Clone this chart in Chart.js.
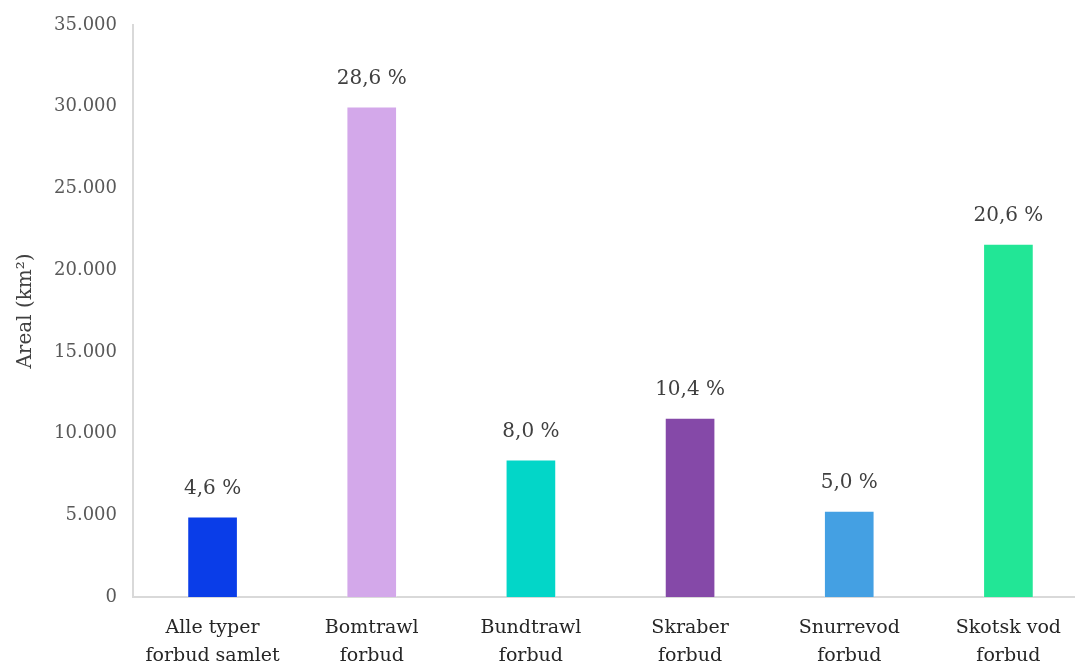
<!DOCTYPE html>
<html lang="da">
<head>
<meta charset="utf-8">
<title>Areal</title>
<script src="https://cdn.jsdelivr.net/npm/chart.js@4.4.1/dist/chart.umd.min.js"></script>
<style>
    html, body { margin: 0; padding: 0; background: #fff; overflow: hidden; }
    #wrap { width: 1088px; height: 687px; position: relative; }
</style>
</head>
<body>
<div id="wrap"><canvas id="area-chart"></canvas></div>
<script>
const categories = [
    ['Alle typer', 'forbud samlet'],
    ['Bomtrawl', 'forbud'],
    ['Bundtrawl', 'forbud'],
    ['Skraber', 'forbud'],
    ['Snurrevod', 'forbud'],
    ['Skotsk vod', 'forbud']
];
const areaValues = [4900, 30000, 8400, 10950, 5250, 21600];
const shareLabels = ['4,6 %', '28,6 %', '8,0 %', '10,4 %', '5,0 %', '20,6 %'];
const barColors = ['#0a3de8', '#d3a8ea', '#03d6c8', '#8549a8', '#44a0e3', '#22e696'];

const serif = 'Georgia, "DejaVu Serif", serif';
Chart.defaults.font.family = serif;

// draws the percentage above each bar
const shareLabelPlugin = {
    id: 'shareLabels',
    afterDatasetsDraw(chart) {
        const ctx = chart.ctx;
        const meta = chart.getDatasetMeta(0);
        ctx.save();
        ctx.font = `20px ${serif}`;
        ctx.fillStyle = '#404040';
        ctx.textAlign = 'center';
        ctx.textBaseline = 'middle';
        meta.data.forEach((bar, i) => {
            ctx.fillText(shareLabels[i], bar.x, bar.y - 28);
        });
        ctx.restore();
    }
};

const ctx = document.getElementById('area-chart').getContext('2d');
new Chart(ctx, {
    type: 'bar',
    data: {
        labels: categories,
        datasets: [{
            data: areaValues,
            backgroundColor: barColors,
            borderColor: 'rgba(255,255,255,0.35)',
            borderWidth: 1,
            barThickness: 50
        }]
    },
    options: {
        responsive: true,
        maintainAspectRatio: false,
        animation: false,
        layout: { padding: { top: 1, left: 14, right: 0, bottom: 0 } },
        plugins: {
            legend: { display: false },
            tooltip: { enabled: false }
        },
        scales: {
            x: {
                grid: { display: false, drawTicks: false },
                border: { display: true, color: '#d9d9d9', width: 2 },
                ticks: {
                    color: '#262626',
                    font: { size: 19, lineHeight: 1.474 },
                    padding: 17,
                    maxRotation: 0
                }
            },
            y: {
                min: 0,
                max: 35000,
                grid: { display: false, drawTicks: false },
                border: { display: true, color: '#d9d9d9', width: 2 },
                ticks: {
                    stepSize: 5000,
                    color: '#595959',
                    font: { size: 18, lineHeight: 1 },
                    padding: 16,
                    callback: (v) => v.toString().replace(/\B(?=(\d{3})+(?!\d))/g, '.')
                },
                title: {
                    display: true,
                    text: 'Areal (km²)',
                    color: '#404040',
                    font: { size: 20 },
                    padding: { top: 0, bottom: 0 }
                }
            }
        }
    },
    plugins: [shareLabelPlugin]
});
</script>
</body>
</html>
